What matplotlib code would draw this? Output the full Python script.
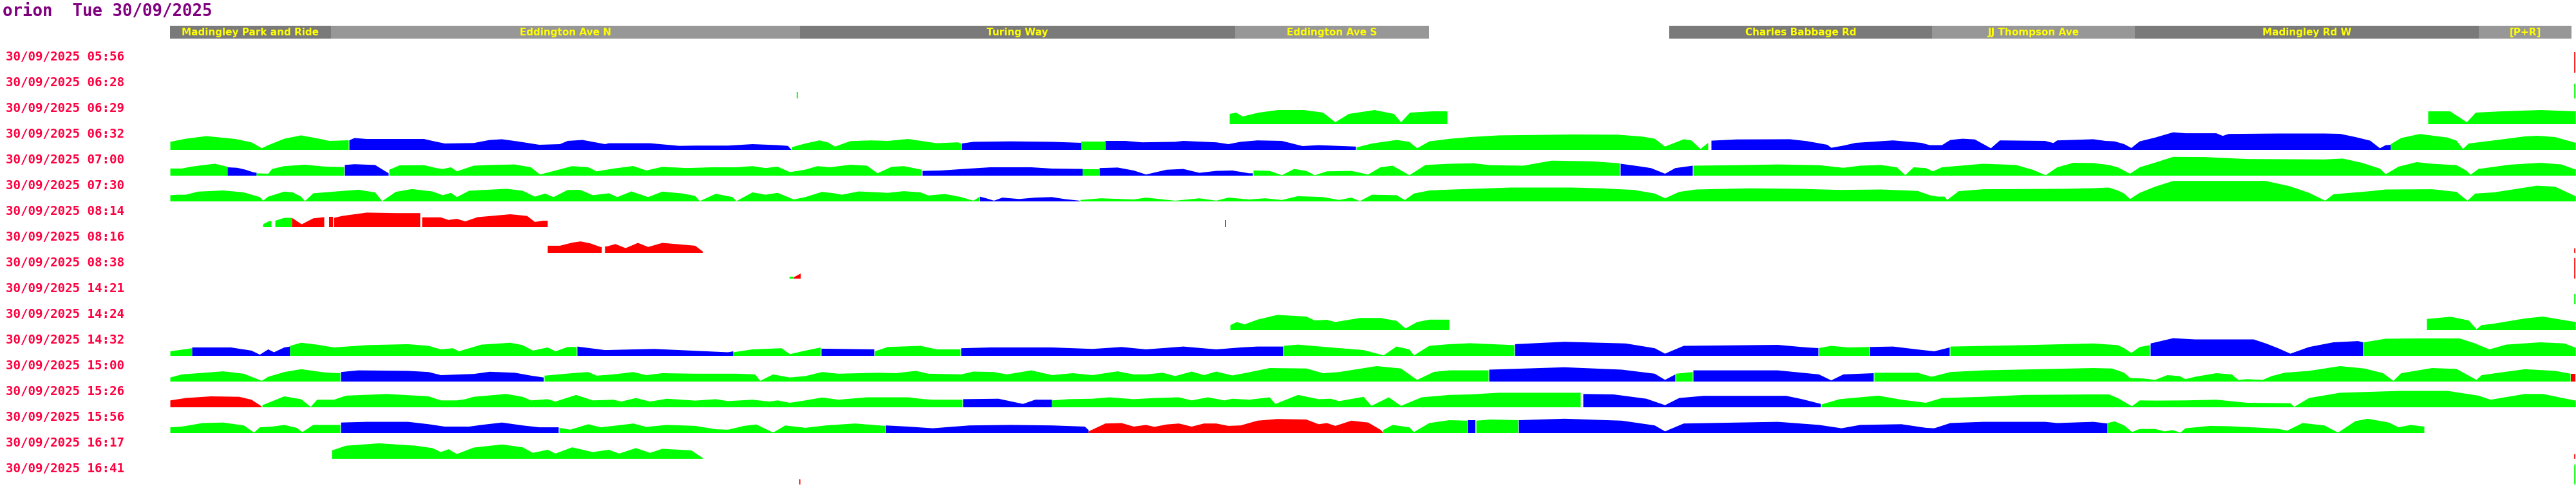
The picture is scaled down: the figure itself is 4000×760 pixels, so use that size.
import matplotlib
matplotlib.use("Agg")
import matplotlib.pyplot as plt

# ---- data -------------------------------------------------------------
title = "orion  Tue 30/09/2025"
trip_date = "30/09/2025"
trip_times = ["05:56", "06:28", "06:29", "06:32", "07:00", "07:30", "08:14",
              "08:16", "08:38", "14:21", "14:24", "14:32", "15:00", "15:26",
              "15:56", "16:17", "16:41"]

# timing points along the route (distance from start)
stop_names = ["Madingley Park and Ride", "Eddington Ave N", "Turing Way",
              "Eddington Ave S", "Charles Babbage Rd", "JJ Thompson Ave",
              "Madingley Rd W", "[P+R]"]
stop_start = [0, 250, 978, 1654, 2328, 2736, 3051, 3585]
stop_end = [250, 978, 1654, 1955, 2736, 3051, 3585, 3729]

# speed profiles: (colour, distance, speed) pieces per journey
t0629 = [
    ("g", [1645, 1655, 1665, 1690, 1720, 1760, 1790, 1809, 1830, 1870, 1900, 1911, 1925, 1960, 1983],
          [16, 18, 12, 18, 22, 22, 18, 3, 16, 22, 16, 3, 18, 20, 20]),
    ("g", [3506, 3540, 3566, 3580, 3620, 3680, 3735], [20, 20, 3, 18, 20, 22, 20]),
]
t0632 = [
    ("g", [0, 24, 56, 101, 126, 142, 152, 177, 203, 228, 247, 277],
          [12.6, 17.4, 21.5, 17, 11.8, 2.6, 7.4, 17.4, 22.6, 18, 14, 15]),
    ("b", [278, 286, 305, 394, 407, 426, 471, 496, 515, 541, 573, 605, 617, 640, 675, 681, 745, 790, 815, 866, 904, 943, 959, 964],
          [15, 18.5, 17, 17, 14, 10, 10.7, 15.5, 16.6, 13, 8, 9, 14, 15.5, 9, 10.4, 10.4, 6.3, 6.7, 6.7, 9, 7.4, 6.3, 0.7]),
    ("g", [965, 971, 986, 1008, 1021, 1032, 1056, 1088, 1114, 1145, 1171, 1190, 1222, 1228],
          [4, 5.9, 10, 14.8, 11.8, 5.2, 13.7, 14.8, 14, 17, 13.3, 10.4, 11.8, 10]),
    ("b", [1229, 1247, 1305, 1369, 1415], [10, 12.6, 13.3, 12.6, 11]),
    ("g", [1415, 1452], [12.6, 12.6]),
    ("b", [1452, 1483, 1509, 1560, 1573, 1624, 1643, 1662, 1688, 1726, 1758, 1783, 1841],
          [14, 14, 11.8, 12.6, 14, 11.8, 9, 12.6, 14.8, 14, 6, 7.4, 5.2]),
    ("g", [1842, 1844, 1866, 1904, 1924, 1936, 1955, 1986, 2018, 2063, 2177, 2247, 2286, 2305, 2321, 2350, 2362, 2376, 2388],
          [4, 4.4, 10, 15.5, 12.6, 2.6, 13.3, 17.2, 20, 22.6, 24, 23.7, 20.7, 17.4, 5.2, 16.6, 14.8, 1.5, 11]),
    ("b", [2393, 2432, 2515, 2541, 2573, 2579, 2598, 2617, 2675, 2719, 2732, 2751, 2764, 2783, 2802, 2827, 2841, 2911, 2924, 2930,
           2986, 3005, 3019, 3034, 3045, 3058, 3082, 3110, 3129, 3177, 3187, 3196, 3273, 3345, 3369, 3393, 3416, 3431, 3440, 3448],
          [14.4, 16.3, 16.6, 13.7, 8, 3.3, 6.7, 11, 14.8, 11, 7.4, 7.4, 15.5, 17.4, 16.3, 2.6, 14.8, 14, 10.7, 14.8,
           16.6, 14, 13.3, 9, 3, 13.3, 19.2, 27.4, 25.9, 25.9, 21.8, 24.8, 25.5, 25.5, 25, 20, 14.4, 2.6, 7.4, 8]),
    ("g", [3448, 3464, 3493, 3536, 3550, 3560, 3569, 3608, 3656, 3676, 3703, 3735],
          [9, 18.5, 24.8, 19.2, 14.4, 1.5, 10, 14.8, 21, 22, 20, 11]),
]
t0700 = [
    ("g", [0, 18, 31, 50, 69, 82, 89], [11.1, 11.1, 13.7, 16.3, 18.5, 15.5, 13.7]),
    ("b", [89, 104, 117, 128, 134], [13, 12.2, 9.2, 5.5, 4.4]),
    ("g", [134, 152, 158, 177, 209, 241, 270], [3.7, 3, 10.4, 14.8, 17, 14, 13.3]),
    ("b", [271, 286, 318, 327, 339], [16.6, 17.8, 16.6, 11, 3.7]),
    ("g", [340, 356, 394, 413, 423, 436, 445, 471, 496, 535, 560, 574, 598, 624, 649, 662, 688, 719, 739, 764, 802, 841, 879,
           904, 924, 943, 962, 986, 1005, 1024, 1056, 1082, 1098, 1120, 1139, 1167],
          [9.2, 16, 16.3, 11.8, 10.4, 13, 6.7, 15.5, 16.6, 17.4, 13, 1.8, 8, 14.8, 13, 6.7, 11, 15, 8, 13.7, 11.8, 13, 13,
           14.8, 11.8, 14, 5.5, 9.4, 14.8, 13, 17, 15.5, 3.7, 13.7, 14.8, 9.2]),
    ("b", [1168, 1196, 1241, 1273, 1337, 1369, 1417], [7.4, 8, 11, 13, 13, 11, 10.4]),
    ("g", [1417, 1443], [9.2, 9.2]),
    ("b", [1443, 1471, 1496, 1515, 1547, 1573, 1598, 1624, 1649, 1675, 1681],
          [11.8, 12.6, 8, 1.8, 9.2, 10.4, 4.4, 7.4, 8, 3.7, 3.7]),
    ("g", [1682, 1707, 1726, 1745, 1764, 1777, 1796, 1834, 1860, 1879, 1898, 1924, 1949, 1986, 2024, 2050, 2101, 2145, 2209, 2251],
          [8, 7.4, 0.7, 10.4, 7.4, 0.7, 6.7, 7.4, 1.8, 13, 15.5, 0.7, 16.6, 18.5, 19.2, 16.3, 15.5, 23.3, 22.2, 19.2]),
    ("b", [2252, 2279, 2299, 2321, 2337, 2364], [18.5, 14.8, 11.8, 3, 11.8, 15.5]),
    ("g", [2365, 2432, 2496, 2560, 2598, 2624, 2656, 2681, 2694, 2707, 2726, 2737, 2751, 2815, 2866, 2892, 2912, 2930, 2955,
           2986, 3010, 3024, 3043, 3058, 3082, 3110, 3158, 3225, 3345, 3373, 3402, 3431, 3440, 3460, 3488, 3512, 3550, 3565,
           3572, 3584, 3632, 3680, 3713, 3735],
          [15.5, 16.3, 17.4, 16.3, 12.2, 15.5, 16.6, 13, 0.7, 13, 11.8, 6.7, 13, 18.5, 16.6, 9.2, 0.7, 13, 20,
           19.6, 16.6, 13, 3, 13, 20.3, 29.2, 28.9, 25.9, 25.2, 26.6, 20.3, 11, 2.2, 14, 21, 18.5, 16.3, 8,
           1.5, 10.4, 17, 20, 17.4, 9.5]),
]
t0730 = [
    ("g", [0, 12, 24, 43, 82, 114, 139, 144, 152, 177, 190, 203, 209, 222, 254, 292, 318, 329, 350, 375, 407, 423, 436, 445,
           464, 522, 547, 566, 582, 595, 617, 637, 656, 681, 694, 716, 742, 764, 796, 815, 822, 847, 873, 879, 904, 924, 943,
           968, 986, 1012, 1031, 1043, 1069, 1114, 1139, 1165, 1177, 1203, 1228, 1247, 1256],
          [9.6, 10.4, 10.4, 15.2, 17, 14, 6.7, 1.1, 7.4, 15.2, 14, 7.4, 0.4, 12.6, 15.2, 18.1, 14, 0.4, 14.8, 19.2, 15.5, 9.6,
           13.3, 6.7, 16.6, 19.6, 16.6, 7.4, 12.2, 6.7, 17.8, 17.8, 9.6, 12.6, 6.7, 15.5, 6.7, 15.2, 12.2, 8.5, 0.4, 11.8,
           6.7, 0.4, 14, 10.4, 13.3, 3, 6.7, 14.8, 12.6, 10.4, 15.5, 13.3, 15.9, 14, 9.2, 11.5, 6.7, 1.1, 6.7]),
    ("b", [1257, 1267, 1279, 1292, 1318, 1343, 1369, 1388, 1412], [7.4, 4.8, 1.1, 5.9, 3.7, 5.9, 6.7, 3.7, 1.1]),
    ("g", [1413, 1445, 1496, 1515, 1560, 1598, 1624, 1643, 1675, 1700, 1726, 1751, 1790, 1815, 1834, 1847, 1866, 1904, 1917,
           1931, 1955, 1986, 2082, 2177, 2222, 2273, 2305, 2321, 2343, 2369, 2452, 2528, 2592, 2656, 2713, 2732, 2745, 2755,
           2759, 2777, 2815, 2943, 2986, 3010, 3024, 3034, 3043, 3058, 3082, 3110, 3177, 3254, 3292, 3321, 3346, 3359, 3416,
           3440, 3512, 3550, 3567, 3579, 3608, 3675, 3703, 3735],
          [2.2, 4.8, 3, 5.9, 1.1, 4.8, 1.1, 5.9, 3, 4.8, 2.2, 8.1, 6.7, 2.2, 5.9, 0.4, 10.4, 9.6, 2.2, 12.2, 17, 18.3, 21.5,
           21.5, 20.3, 17.8, 12.2, 4.8, 14.8, 18.5, 20.3, 19.6, 17.8, 18.5, 16.3, 9.6, 7.4, 7.4, 2.2, 15.9, 18.9, 19.6, 20.5,
           21.5, 17, 12.2, 3.7, 13.3, 22.9, 31.8, 31.8, 31.8, 23.3, 13.3, 1.1, 11.1, 15.9, 18.5, 18.9, 14.8, 1.1, 12.2, 14,
           24.4, 22.9, 8]),
]
t0814 = [
    ("g", [144, 153, 157], [4.4, 9.2, 9.2]),
    ("g", [163, 177, 189], [10, 14.4, 14.4]),
    ("r", [189, 204, 222, 239], [14.4, 4.4, 13.7, 15.5]),
    ("r", [247, 253], [16, 16]),
    ("r", [254, 267, 305, 350, 388], [14.4, 17.4, 22.6, 21.8, 21.8]),
    ("r", [391, 407, 420, 432, 445, 458, 477, 528, 554, 566, 579, 586],
          [15.2, 15.2, 15.2, 11.1, 12.9, 8.9, 15.5, 20, 17.4, 8.1, 10, 10]),
]
t0816 = [
    ("r", [586, 605, 624, 637, 652, 668, 670], [11.1, 11.1, 15.9, 17.8, 14.8, 9.2, 9.2]),
    ("r", [675, 678, 691, 707, 726, 742, 764, 815, 827], [10, 10, 13.7, 7.4, 15.5, 9.2, 15.5, 11.1, 2]),
]
t0838 = [
    ("g", [962, 968], [2.5, 2.5]),
    ("r", [968, 979], [2, 8]),
]
t1424 = [
    ("g", [1646, 1656, 1668, 1688, 1719, 1764, 1777, 1796, 1809, 1847, 1879, 1904, 1918, 1936, 1955, 1986],
          [7.7, 12.5, 8.8, 16.2, 23.6, 21, 15, 16, 12.5, 18.8, 18.8, 14.4, 2.5, 12.5, 16.2, 16.2]),
    ("g", [3504, 3541, 3569, 3581, 3589, 3608, 3656, 3684, 3735], [17.3, 20.7, 15, 1.4, 7.7, 10, 18, 21, 12.5]),
]
t1432 = [
    ("g", [0, 34], [7, 11.8]),
    ("b", [34, 94, 126, 139, 152, 161, 177, 186], [13, 13, 8.1, 1.8, 10, 5.5, 13, 14.4]),
    ("g", [186, 203, 228, 254, 305, 369, 401, 420, 439, 448, 483, 528, 547, 563, 586, 598, 617, 631],
          [15.5, 20.3, 17.4, 13, 16.6, 18.1, 15.5, 10, 11.8, 7, 17.4, 20.3, 16.6, 8.1, 13, 7, 13.7, 13.7]),
    ("b", [632, 675, 751, 815, 866, 874], [14.4, 8.9, 10.7, 7.8, 5.5, 7]),
    ("g", [874, 904, 949, 962, 986, 1010], [5.5, 10, 11.8, 2.6, 8.1, 13]),
    ("b", [1011, 1093], [11.1, 10]),
    ("g", [1094, 1114, 1165, 1190, 1227], [7, 13.7, 15.5, 10, 10]),
    ("b", [1228, 1273, 1369, 1432, 1477, 1515, 1573, 1624, 1662, 1688, 1728],
          [11.8, 13, 13, 10.7, 13.7, 10, 14.4, 10, 13, 14.4, 14.4]),
    ("g", [1729, 1751, 1802, 1853, 1884, 1904, 1924, 1931, 1955, 1986, 2018, 2087],
          [15.5, 17.4, 13, 8.9, 0.7, 14.4, 10, 0.7, 15.5, 18.1, 19.6, 16.6]),
    ("b", [2088, 2165, 2260, 2305, 2321, 2350, 2496, 2541, 2559], [18.1, 21.8, 19.2, 11.8, 3.3, 15.5, 17, 13, 12]),
    ("g", [2560, 2579, 2605, 2638], [12, 15.5, 13, 13.7]),
    ("b", [2639, 2675, 2719, 2739, 2763], [13.7, 14.4, 9.2, 7, 13]),
    ("g", [2764, 2879, 2986, 3024, 3034, 3045, 3058, 3074], [14.4, 16.6, 19.2, 16.6, 11.8, 4.4, 13.7, 16.6]),
    ("b", [3075, 3110, 3144, 3235, 3254, 3273, 3292, 3321, 3359, 3397, 3405],
          [19.2, 27.4, 25.5, 25.5, 19.2, 11.8, 3.3, 13.7, 21, 22.9, 21]),
    ("g", [3406, 3440, 3488, 3555, 3579, 3601, 3627, 3680, 3718, 3735], [21, 26.6, 27, 27, 19.2, 10, 17.4, 21, 19.2, 12.5]),
]
t1500 = [
    ("g", [0, 18, 82, 114, 142, 152, 177, 203, 241, 264], [6.3, 11.1, 15.9, 12.2, 1.1, 7.4, 14.8, 19.2, 14, 13]),
    ("b", [265, 292, 369, 401, 420, 471, 496, 535, 560, 580], [14.8, 17.4, 16.6, 14.8, 10, 11.8, 15.2, 13.7, 9.2, 6.3]),
    ("g", [581, 624, 649, 662, 688, 719, 739, 764, 815, 879, 908, 916, 936, 962, 986, 1012, 1037, 1101, 1126, 1158, 1177,
           1228, 1247, 1279, 1299, 1337, 1369, 1401, 1432, 1471, 1496, 1515, 1541, 1560, 1586, 1605, 1624, 1649, 1668, 1707,
           1764, 1790, 1815, 1873, 1911, 1936, 1962, 1986, 2047],
          [9.2, 13, 14.8, 9.2, 11.1, 14.8, 10, 13, 12.2, 12.2, 11.1, 1.1, 11.1, 6.3, 8.5, 14.8, 12.2, 13.7, 13, 16.6, 12.2,
           11.1, 15.5, 14.8, 11.1, 17.4, 10, 13, 10, 15.9, 11.1, 11.1, 13.7, 8.5, 15.5, 10, 15.5, 9.5, 13, 21,
           20.3, 13, 14.8, 24, 20.3, 2.6, 15, 17.4, 17.4]),
    ("b", [2048, 2165, 2254, 2305, 2321, 2337], [18.5, 22.2, 18.5, 12.2, 2.6, 11.1]),
    ("g", [2338, 2364], [12.2, 14.8]),
    ("b", [2365, 2496, 2560, 2579, 2598, 2645], [17.4, 17.4, 11.1, 1.8, 11.1, 13]),
    ("g", [2646, 2713, 2735, 2764, 2815, 2986, 3015, 3034, 3043, 3063, 3082, 3101, 3120, 3129, 3144, 3177, 3201, 3211, 3225,
           3249, 3263, 3283, 3321, 3369, 3407, 3436, 3452, 3464, 3512, 3550, 3581, 3589, 3656, 3703, 3727],
          [13.7, 13.7, 7.4, 14.8, 17.4, 21, 20.3, 13.7, 5.5, 4.8, 2.6, 10, 8.5, 3.7, 7.4, 13, 11.1, 2.6, 3.7,
           2.6, 8.5, 13.7, 16.6, 24, 20.3, 13, 1.1, 13, 21, 19.6, 2.6, 10, 19.2, 16.6, 12.2]),
    ("r", [3728, 3735], [11.1, 11.1]),
]
t1526 = [
    ("r", [0, 24, 63, 107, 126, 139, 142], [10.7, 14.4, 17, 16.3, 11.8, 3.3, 1]),
    ("g", [143, 177, 203, 218, 228, 254, 273, 337, 401, 420, 445, 458, 471, 522, 547, 560, 586, 598, 630, 656, 688, 700, 723,
           745, 771, 815, 847, 866, 904, 930, 943, 962, 986, 1012, 1037, 1082, 1145, 1171, 1184, 1230],
          [3.3, 17, 12.6, 0.7, 11.8, 11.8, 18.1, 20.7, 17, 10.7, 10.7, 12.6, 16.3, 20.7, 16.3, 10.7, 12.6, 8.9, 19.2, 10.7,
           11.8, 8.9, 14.4, 8.9, 13.3, 10.4, 12.6, 9.6, 11.8, 8.9, 10.7, 7, 10.7, 15.2, 11.8, 15.5, 15.5, 12.6, 11.8, 11.8]),
    ("b", [1231, 1286, 1324, 1343, 1369], [12.6, 13.3, 5.2, 11.8, 11.8]),
    ("g", [1369, 1394, 1432, 1458, 1496, 1528, 1566, 1586, 1611, 1637, 1649, 1675, 1707, 1716, 1751, 1783, 1802, 1815, 1853,
           1865, 1892, 1911, 1943, 1986, 2018, 2063, 2190],
          [10.7, 12.6, 13.3, 15.5, 12.6, 14.4, 15.5, 10.7, 15.5, 10.7, 13.3, 11.8, 15.5, 5.2, 19.2, 12.6, 13.3, 9.6, 16.3,
           2.2, 15.5, 2.2, 15.5, 19.2, 20, 22.6, 22.6]),
    ("b", [2194, 2241, 2292, 2321, 2343, 2381, 2509, 2534, 2563], [20.7, 20, 13.3, 3.3, 14.4, 17.8, 17.8, 12.6, 5.2]),
    ("g", [2564, 2592, 2652, 2688, 2726, 2751, 2815, 2879, 2986, 3010, 3024, 3046, 3058, 3082, 3129, 3177, 3225, 3292, 3298,
           3321, 3369, 3464, 3536, 3584, 3603, 3656, 3684, 3735],
          [4.4, 12.6, 18.1, 11.8, 7, 14.4, 16.3, 19.2, 20, 20, 14.4, 1.5, 10.7, 10.4, 10.7, 11.8, 7, 6.3, 0.7,
           14.4, 22.6, 25.5, 25.5, 18.1, 11.8, 20.7, 20.7, 10.3]),
]
t1556 = [
    ("g", [0, 18, 50, 82, 114, 130, 139, 158, 177, 196, 205, 222, 264],
          [8.9, 10, 15.5, 16.3, 11.8, 0.7, 8.9, 10, 12.6, 8.1, 1.5, 12.6, 12.6]),
    ("b", [265, 305, 369, 401, 426, 464, 483, 515, 547, 573, 603], [16.3, 17.4, 17.4, 13.7, 10, 10, 12.6, 16.3, 11.8, 8.9, 8.9]),
    ("g", [604, 621, 649, 668, 688, 719, 739, 771, 815, 847, 866, 891, 910, 936, 955, 986, 1018, 1063, 1110],
          [8.1, 5.2, 13.7, 8.9, 11.1, 14.8, 9.5, 12.6, 11.1, 5.9, 5.2, 11.1, 13.3, 0.7, 11.8, 8.1, 11.8, 14.8, 11.1]),
    ("b", [1111, 1145, 1184, 1241, 1305, 1369, 1420, 1426], [11.8, 10, 7.4, 11.8, 12.6, 11.8, 10, 4.4]),
    ("r", [1426, 1452, 1477, 1496, 1515, 1528, 1547, 1566, 1586, 1605, 1624, 1643, 1662, 1688, 1719, 1764, 1783, 1796, 1809,
           1834, 1860, 1879, 1883],
          [2.6, 14.8, 15.5, 10, 12.6, 9.6, 13.3, 14.8, 10, 14.8, 14.8, 11.1, 11.8, 19.2, 21.8, 21, 13.7, 15.5, 11.1,
           19.2, 16.3, 5.2, 1]),
    ("g", [1883, 1898, 1924, 1931, 1955, 1986, 2014], [4.4, 12.6, 8.9, 1.5, 15.5, 20, 19.2]),
    ("b", [2015, 2027], [19.2, 19.2]),
    ("g", [2028, 2050, 2093], [19.2, 21, 20]),
    ("b", [2094, 2165, 2254, 2305, 2321, 2350, 2496, 2560, 2595, 2624, 2688, 2726, 2739, 2764, 2815, 2911, 2930, 2986, 3008],
          [20, 22.2, 19.2, 11.8, 2.6, 14.8, 17.4, 12.6, 7.4, 12.6, 13.7, 8.1, 7.4, 15.5, 17.4, 17.4, 15.5, 17.4, 14.8]),
    ("g", [3008, 3019, 3034, 3046, 3058, 3082, 3096, 3110, 3121, 3129, 3168, 3201, 3225, 3249, 3273, 3287, 3311, 3345, 3366,
           3393, 3412, 3445, 3460, 3479, 3500],
          [15.5, 18.1, 11.8, 1.5, 6.3, 6.3, 2.6, 4.5, 0.4, 7.4, 11.1, 10.4, 9.2, 8.1, 6.5, 3.7, 15.5, 11.8, 0.7,
           18.5, 22.2, 16.3, 8.9, 12.6, 10]),
]
t1617 = [
    ("g", [251, 273, 324, 381, 407, 420, 432, 445, 471, 515, 547, 563, 586, 598, 624, 656, 681, 697, 723, 745, 764, 809, 827],
          [13, 20.3, 24, 20.3, 16.6, 10.4, 14.8, 7.4, 17.4, 22.2, 17.8, 9.2, 14, 8.1, 17.8, 10.4, 14, 8.1, 16.6, 9.2, 15.5, 13, 1]),
]
profiles = {"06:29": t0629, "06:32": t0632, "07:00": t0700, "07:30": t0730,
            "08:14": t0814, "08:16": t0816, "08:38": t0838, "14:24": t1424,
            "14:32": t1432, "15:00": t1500, "15:26": t1526, "15:56": t1556,
            "16:17": t1617}

# single readings drawn as one-pixel spikes: (trip, distance, speed, colour)
spikes = [("05:56", 3734, 32, "r"), ("06:28", 974, 10, "g"), ("06:28", 3734, 23, "g"),
          ("08:14", 1639, 11, "r"), ("08:16", 3734, 7, "r"), ("08:38", 3734, 32, "r"),
          ("14:21", 3734, 16, "g"), ("16:17", 3734, 7, "r"), ("16:41", 978, 8, "r"),
          ("16:41", 3734, 31, "g")]

# ---- style / layout ---------------------------------------------------
COLOURS = {"g": "#00ff00", "b": "#0000ff", "r": "#ff0000"}
HEAD_COLOURS = ["#7a7a7a", "#979797"]
W, H = 4000, 760
ROUTE_X0 = 264          # left edge of the route in the picture
ROW0, PITCH = 112.5, 40  # baseline of first journey, row spacing
HEAD_Y, HEAD_H = 50, 20

fig = plt.figure(figsize=(W / 100, H / 100), dpi=100)
ax = fig.add_axes([0, 0, 1, 1])
ax.set_xlim(-ROUTE_X0, W - ROUTE_X0)
ax.set_ylim(H, 0)
ax.axis("off")

ax.text(-ROUTE_X0 + 4, 25, title, color="#800080", fontsize=18.5,
        family="DejaVu Sans Mono", weight="bold", va="baseline", ha="left")

# timing point header
for i, name in enumerate(stop_names):
    ax.barh(HEAD_Y, stop_end[i] - stop_start[i], left=stop_start[i], height=HEAD_H,
            color=HEAD_COLOURS[i % 2], linewidth=0)
    ax.text((stop_start[i] + stop_end[i]) / 2, HEAD_Y + 5.5, name, color="#ffff00",
            fontsize=11, family=["Liberation Sans Narrow", "DejaVu Sans"],
            weight="bold", ha="center", va="baseline")

row_of = {t: k for k, t in enumerate(trip_times)}
for k, t in enumerate(trip_times):
    base = ROW0 + PITCH * k
    ax.text(-ROUTE_X0 + 9, base - 18, f"{trip_date} {t}", color="#ff0040",
            fontsize=13.8, family="DejaVu Sans Mono", weight="bold",
            va="baseline", ha="left")
    for col, xs, vs in profiles.get(t, []):
        ax.fill_between(xs, base, [base - v for v in vs], color=COLOURS[col],
                        linewidth=0, antialiased=False)

for t, d, v, col in spikes:
    base = ROW0 + PITCH * row_of[t]
    ax.vlines(d, base, base - v, colors=COLOURS[col], linewidth=1.2)

fig.savefig("out.png", dpi=100, facecolor="white")
